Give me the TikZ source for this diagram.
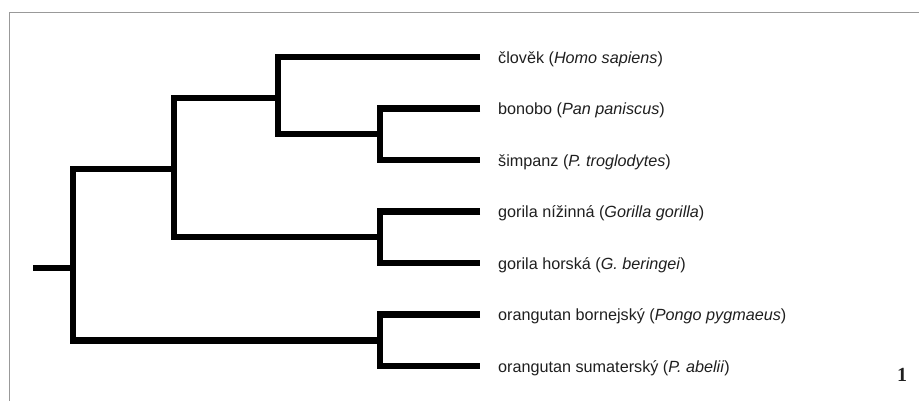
\documentclass[tikz,border=0pt]{standalone}
\usepackage{fontspec}
\setsansfont{Liberation Sans}
\newfontfamily\numfont{Liberation Serif}
\begin{document}
\begin{tikzpicture}[x=1pt,y=-1pt,
  branch/.style={line width=6.5pt, line join=miter, line cap=butt},
  frame/.style={draw=black!40, line width=1pt},
  leaf/.style={anchor=west, inner sep=0pt, text=black!88, font=\sffamily\fontsize{16.2}{19}\selectfont}]
\useasboundingbox (0,0) rectangle (919,401);
\draw[frame] (9.5,401) -- (9.5,12.5) -- (919,12.5);
% leaves
\coordinate (t1) at (480,57);
\coordinate (t2) at (480,108.5);
\coordinate (t3) at (480,160);
\coordinate (t4) at (480,211.5);
\coordinate (t5) at (480,263);
\coordinate (t6) at (480,314.5);
\coordinate (t7) at (480,366);
% internal nodes
\coordinate (pan) at (380,134);
\coordinate (gor) at (380,237);
\coordinate (ora) at (380,340.5);
\coordinate (hp) at (278,98);
\coordinate (hom) at (174,169);
\coordinate (root) at (73,268);
\coordinate (stub) at (33,268);
\draw[branch] (t2) -| (pan) |- (t3);
\draw[branch] (t4) -| (gor) |- (t5);
\draw[branch] (t6) -| (ora) |- (t7);
\draw[branch] (t1) -| (hp) |- (pan);
\draw[branch] (hp) -| (hom) |- (gor);
\draw[branch] (hom) -| (root) |- (ora);
\draw[branch] (stub) -- (root);
% labels
\node[leaf] (l1) at (498,59) {člověk (\textit{Homo sapiens})};
\node[leaf] (l2) at (498,110.5) {bonobo (\textit{Pan paniscus})};
\node[leaf] (l3) at (498,162) {šimpanz (\textit{P. troglodytes})};
\node[leaf] (l4) at (498,213.5) {gorila nížinná (\textit{Gorilla gorilla})};
\node[leaf] (l5) at (498,265) {gorila horská (\textit{G. beringei})};
\node[leaf] (l6) at (498,316.5) {orangutan bornejský (\textit{Pongo pygmaeus})};
\node[leaf] (l7) at (498,368) {orangutan sumaterský (\textit{P. abelii})};
\node[inner sep=0pt, text=black!88, font=\numfont\fontsize{20}{24}\selectfont] (num) at (902,375) {\textbf{1}};
\end{tikzpicture}
\end{document}
